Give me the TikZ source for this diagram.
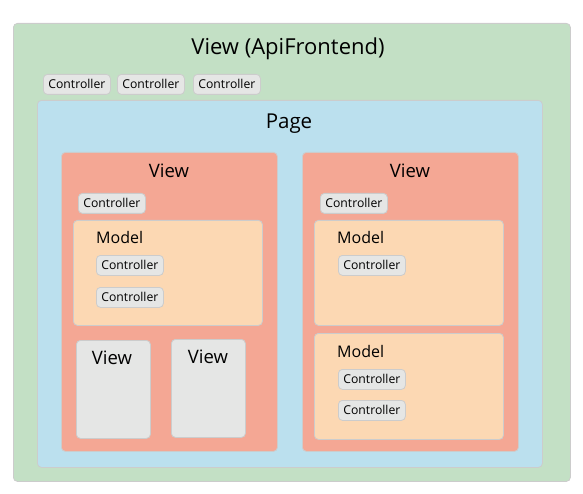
\documentclass[tikz,border=0pt]{standalone}
\usepackage{fontspec}
\setmainfont{Open Sans}
\usepackage{xcolor}

\definecolor{appgreen}{HTML}{C3E0C5}
\definecolor{pageblue}{HTML}{BBE0EE}
\definecolor{viewred}{HTML}{F4A794}
\definecolor{modelorange}{HTML}{FCD8B3}
\definecolor{ctrlgray}{HTML}{E5E6E5}
\definecolor{edgegray}{HTML}{CCCCCC}

\tikzset{
  box/.style={draw=edgegray,line width=0.8pt,rounded corners=4pt,anchor=north west,inner sep=0pt},
  ctrl/.style={draw=edgegray,fill=ctrlgray,line width=0.8pt,rounded corners=4pt,anchor=north west,
    minimum width=67pt,minimum height=20pt,inner sep=0pt,font=\fontsize{12.2}{13}\selectfont},
  title/.style={font=\fontsize{#1}{#1}\selectfont,inner sep=0pt},
}

\begin{document}
\begin{tikzpicture}[x=1pt,y=-1pt]
  \useasboundingbox (0,0) rectangle (583,494);
  % outer app view
  \node[box,fill=appgreen,minimum width=557pt,minimum height=458pt] at (13,23) (app) {};
  \node[title=22] at (288,48.5) (apptitle) {View (ApiFrontend)};
  \node[ctrl] at (43,74) (c1) {Controller};
  \node[ctrl] at (117,74) (c2) {Controller};
  \node[ctrl] at (193,74) (c3) {Controller};

  % page
  \node[box,fill=pageblue,minimum width=505pt,minimum height=367pt] at (37,100) (page) {};
  \node[title=20.5] at (289,123.5) (pagetitle) {Page};

  % left view
  \node[box,fill=viewred,minimum width=216pt,minimum height=299pt] at (61,152) (lview) {};
  \node[title=18.5] at (169,171) (lviewtitle) {View};
  \node[ctrl] at (78,193) (lctrl) {Controller};
  \node[box,fill=modelorange,minimum width=189pt,minimum height=105pt] at (73,220) (lmodel) {};
  \node[title=16,anchor=west] at (96,237.5) (lmodeltitle) {Model};
  \node[ctrl] at (96,255) (lmc1) {Controller};
  \node[ctrl] at (96,287) (lmc2) {Controller};
  \node[box,fill=ctrlgray,minimum width=74pt,minimum height=98pt] at (76,340) (sview1) {};
  \node[title=18.5] at (112,358) (sview1title) {View};
  \node[box,fill=ctrlgray,minimum width=74pt,minimum height=98pt] at (171,339) (sview2) {};
  \node[title=18.5] at (208,357) (sview2title) {View};

  % right view
  \node[box,fill=viewred,minimum width=216pt,minimum height=299pt] at (302,152) (rview) {};
  \node[title=18.5] at (410,171) (rviewtitle) {View};
  \node[ctrl] at (320,193) (rctrl) {Controller};
  \node[box,fill=modelorange,minimum width=189pt,minimum height=105pt] at (314,220) (rmodel1) {};
  \node[title=16,anchor=west] at (337,237.5) (rmodel1title) {Model};
  \node[ctrl] at (338,255) (rm1c1) {Controller};
  \node[box,fill=modelorange,minimum width=189pt,minimum height=106pt] at (314,333) (rmodel2) {};
  \node[title=16,anchor=west] at (337,351.5) (rmodel2title) {Model};
  \node[ctrl] at (338,369) (rm2c1) {Controller};
  \node[ctrl] at (338,400) (rm2c2) {Controller};
\end{tikzpicture}
\end{document}
